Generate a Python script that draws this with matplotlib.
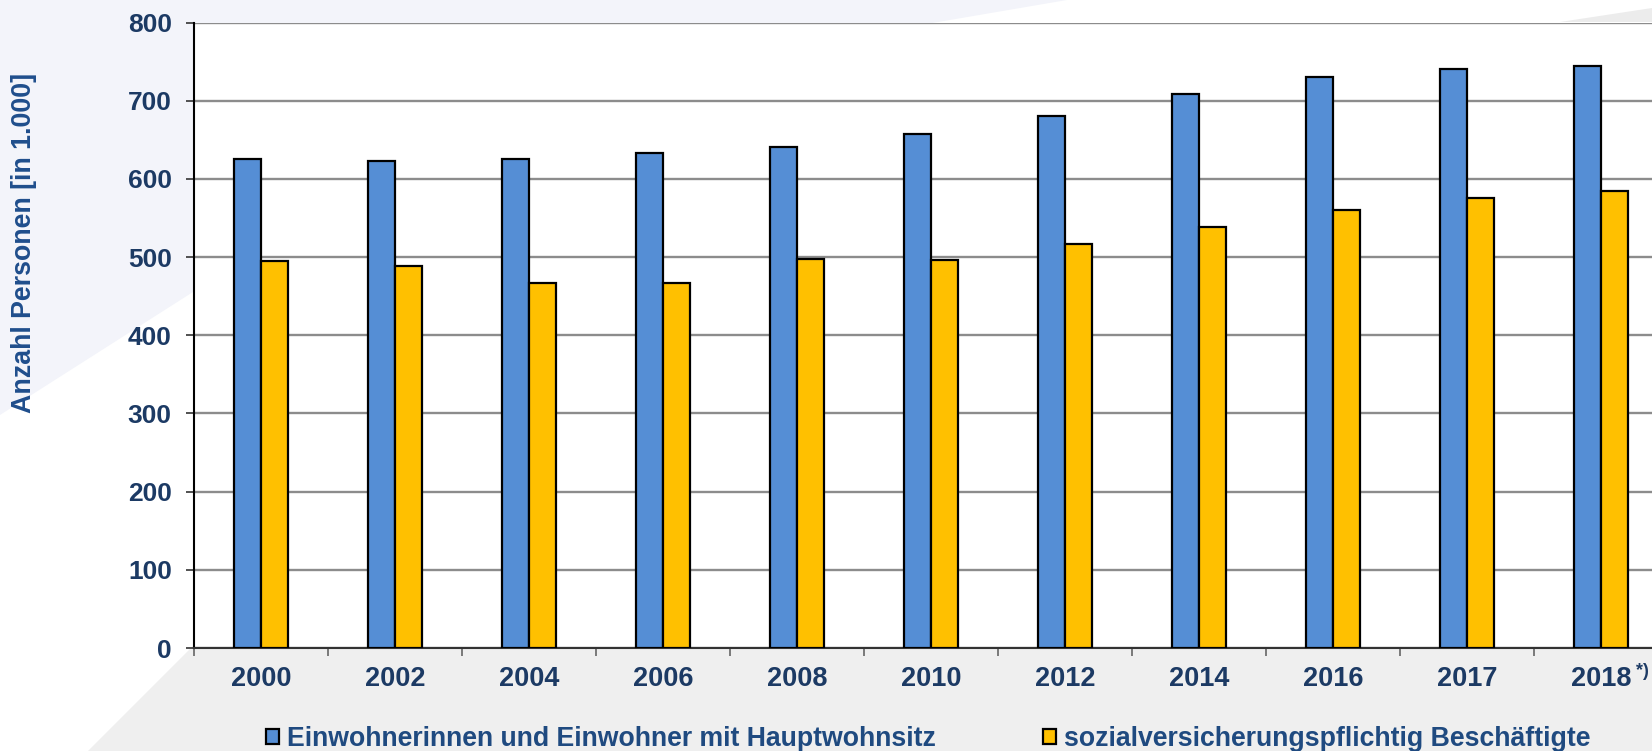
import matplotlib
matplotlib.use("Agg")
import matplotlib.pyplot as plt
from matplotlib.patches import Polygon, Patch

plt.rcParams['font.family'] = ['Liberation Sans', 'DejaVu Sans']
plt.rcParams['font.weight'] = 'bold'

years = ["2000", "2002", "2004", "2006", "2008", "2010", "2012", "2014", "2016", "2017", "2018"]
einwohner = [625, 623, 625, 633, 641, 657, 680, 709, 730, 741, 745]
beschaeftigte = [495, 489, 467, 467, 497, 496, 517, 538, 560, 576, 584]
y_ticks = [0, 100, 200, 300, 400, 500, 600, 700, 800]
legend_labels = ["Einwohnerinnen und Einwohner mit Hauptwohnsitz",
                 "sozialversicherungspflichtig Beschäftigte"]

navy = "#1c3a64"
blue = "#558ed5"
yellow = "#ffc000"

W, H = 1652, 751
fig = plt.figure(figsize=(W / 100, H / 100), dpi=100)
fig.patch.set_facecolor("white")

# background shapes (pixel coords -> figure coords)
def px(pts):
    return [(x / W, 1 - y / H) for x, y in pts]

for pts, col in [([(0, 0), (1067, 0), (499, 97), (0, 415)], "#f3f4fa"),
                 ([(88, 751), (193, 646), (1652, 646), (1652, 751)], "#efefef"),
                 ([(1560, 22), (1652, 8), (1652, 22)], "#ececec")]:
    fig.patches.append(Polygon(px(pts), closed=True, transform=fig.transFigure,
                               facecolor=col, edgecolor="none", zorder=-5))

left, bottom, top = 194 / W, 1 - 648 / H, 1 - 22.5 / H
ax = fig.add_axes([left, bottom, 134 * 11 / W, top - bottom])
ax.set_zorder(2)
ax.set_facecolor("white")

x = list(range(len(years)))
bw = 0.2
ax.bar([i - bw / 2 for i in x], einwohner, width=bw, color=blue,
       edgecolor="black", linewidth=1.6, zorder=3)
ax.bar([i + bw / 2 for i in x], beschaeftigte, width=bw, color=yellow,
       edgecolor="black", linewidth=1.6, zorder=3)

ax.set_xlim(-0.5, len(years) - 0.5)
ax.set_ylim(0, 800)
ax.set_yticks(y_ticks)
ax.set_yticklabels([str(v) for v in y_ticks], fontsize=19, color=navy, fontweight="bold")
ax.yaxis.grid(True, color="#8c8c8c", linewidth=1.7, zorder=1)
ax.set_axisbelow(True)

# category boundary ticks and centered labels
ax.set_xticks([i - 0.5 for i in range(len(years) + 1)])
ax.set_xticklabels([])
ax.set_xticks(x, years, minor=True)
ax.tick_params(axis="x", which="major", direction="out", length=6, width=1.2, color="#666666")
ax.tick_params(axis="x", which="minor", length=0, pad=13, labelsize=19.5, labelcolor=navy)
for lab in ax.get_xticklabels(minor=True):
    lab.set_fontweight("bold")
ax.tick_params(axis="y", direction="out", length=6, width=1.2, color="#333333", pad=10)

for s in ["top", "right"]:
    ax.spines[s].set_visible(False)
ax.spines["left"].set_color("black")
ax.spines["left"].set_linewidth(1.5)
ax.spines["bottom"].set_color("#333333")
ax.spines["bottom"].set_linewidth(1.5)

fig.text(1636 / W, 1 - 672 / H, "*)", fontsize=13, color=navy, fontweight="bold",
         ha="left", va="center")

fig.text(24 / W, 1 - 243 / H, "Anzahl Personen [in 1.000]", rotation=90,
         fontsize=19.3, color="#1f4e8c", fontweight="bold", ha="center", va="center")

handles = [Patch(facecolor=blue, edgecolor="black", linewidth=1.6),
           Patch(facecolor=yellow, edgecolor="black", linewidth=1.6)]
leg = fig.legend(handles, legend_labels, loc="center left",
                 bbox_to_anchor=(266 / W, 1 - 739 / H), ncol=2, frameon=False,
                 prop={"size": 19.2, "weight": "bold"}, handlelength=0.5,
                 handleheight=0.5, handletextpad=0.3, columnspacing=4.0,
                 borderpad=0, borderaxespad=0)
for t in leg.get_texts():
    t.set_color("#1f4a80")

fig.savefig("out.png", dpi=100)
